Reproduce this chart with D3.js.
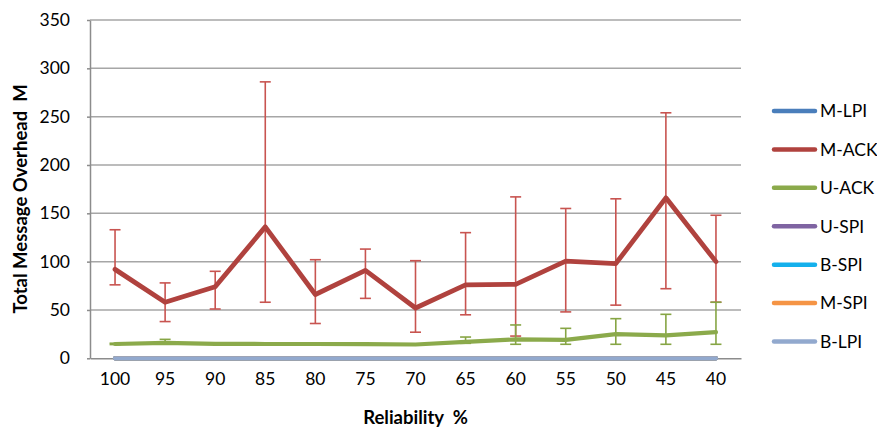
<!DOCTYPE html>
<html>
<head>
<meta charset="utf-8">
<script src="https://cdn.jsdelivr.net/npm/d3@7"></script>
<style>
  html, body { margin: 0; padding: 0; background: #fff; }
  svg { display: block; font-family: Lato, "Open Sans", sans-serif; }
</style>
</head>
<body>
<svg id="chart" width="877" height="430"></svg>
<script>
// Reliability levels on the x axis
const categories = ["100", "95", "90", "85", "80", "75", "70", "65", "60", "55", "50", "45", "40"];

// M-ACK: mean overhead with min/max whiskers
const mAck   = [92, 58, 74, 136, 66, 91, 52, 76, 76.5, 100.5, 98, 166, 100];
const mAckHi = [133, 78, 90, 286, 102, 113, 101, 130, 167, 155, 165, 254, 148];
const mAckLo = [76, 38, 51, 58, 36, 62, 27, 45, 23, 48, 55, 72, 58];

// U-ACK: mean overhead with min/max whiskers
const uAck   = [14.8, 16, 15, 14.8, 14.8, 14.6, 14.3, 17, 19.6, 19, 25, 23.8, 27];
const uAckHi = [15.6, 19.6, 15.4, 15.2, 15.2, 15, 14.7, 22, 34.5, 31, 41, 45.5, 58];
const uAckLo = [14.2, 15.4, 14.6, 14.4, 14.4, 14.2, 13.9, 15.5, 14.5, 14.5, 14.5, 14.5, 14.5];

// Protocols with no overhead
const mLpi = [0, 0, 0, 0, 0, 0, 0, 0, 0, 0, 0, 0, 0];
const uSpi = [0, 0, 0, 0, 0, 0, 0, 0, 0, 0, 0, 0, 0];
const bSpi = [0, 0, 0, 0, 0, 0, 0, 0, 0, 0, 0, 0, 0];
const mSpi = [0, 0, 0, 0, 0, 0, 0, 0, 0, 0, 0, 0, 0];
const bLpi = [0, 0, 0, 0, 0, 0, 0, 0, 0, 0, 0, 0, 0];

const yTicks = [0, 50, 100, 150, 200, 250, 300, 350];

const series = [
  { name: "M-LPI", values: mLpi, color: "#4A7EBB" },
  { name: "M-ACK", values: mAck, color: "#B0423E", hi: mAckHi, lo: mAckLo, errColor: "#C85450" },
  { name: "U-ACK", values: uAck, color: "#8BAA4B", hi: uAckHi, lo: uAckLo, errColor: "#86A544" },
  { name: "U-SPI", values: uSpi, color: "#7F64A2" },
  { name: "B-SPI", values: bSpi, color: "#14B0EC" },
  { name: "M-SPI", values: mSpi, color: "#F59445" },
  { name: "B-LPI", values: bLpi, color: "#92A9CE" }
];

const svg = d3.select("#chart");
const plotLeft = 90, plotRight = 741, plotTop = 20, plotBottom = 358.3;

const x = d3.scaleBand().domain(categories).range([plotLeft, plotRight]);
const y = d3.scaleLinear().domain([0, 350]).range([plotBottom, plotTop]);
const cx = c => x(c) + x.bandwidth() / 2;

// Horizontal gridlines
svg.append("g")
  .selectAll("line")
  .data(yTicks.filter(t => t > 0))
  .join("line")
  .attr("x1", plotLeft).attr("x2", plotRight)
  .attr("y1", d => y(d)).attr("y2", d => y(d))
  .attr("stroke", "#A6A6A6").attr("stroke-width", 1.5);

// Y axis
const yAxis = svg.append("g")
  .attr("transform", `translate(${plotLeft},0)`)
  .call(d3.axisLeft(y).tickValues(yTicks).tickSize(3).tickSizeOuter(0).tickPadding(17));
yAxis.select(".domain").attr("stroke", "#8C8C8C").attr("stroke-width", 1.5);
yAxis.selectAll(".tick line").attr("stroke", "#8C8C8C").attr("stroke-width", 1.5);
yAxis.selectAll(".tick text")
  .attr("font-family", "Lato, sans-serif").attr("font-size", 17.5).attr("fill", "#000");

// X axis
const xAxis = svg.append("g")
  .attr("transform", `translate(0,${plotBottom})`)
  .call(d3.axisBottom(x).tickSize(0).tickSizeOuter(0).tickPadding(14));
xAxis.select(".domain").attr("stroke", "#8C8C8C").attr("stroke-width", 1.5);
xAxis.selectAll(".tick text")
  .attr("font-family", "Lato, sans-serif").attr("font-size", 17.5).attr("fill", "#000");

// Error bars
const capHalf = 5.5;
series.filter(s => s.hi).forEach(s => {
  const g = svg.append("g").attr("stroke", s.errColor).attr("stroke-width", 1.6).attr("fill", "none");
  categories.forEach((c, i) => {
    const px = cx(c);
    g.append("line").attr("x1", px).attr("x2", px).attr("y1", y(s.hi[i])).attr("y2", y(s.lo[i]));
    g.append("line").attr("x1", px - capHalf).attr("x2", px + capHalf).attr("y1", y(s.hi[i])).attr("y2", y(s.hi[i]));
    g.append("line").attr("x1", px - capHalf).attr("x2", px + capHalf).attr("y1", y(s.lo[i])).attr("y2", y(s.lo[i]));
  });
});

// Series lines
const line = d3.line()
  .x((d, i) => cx(categories[i]))
  .y(d => y(d));

svg.append("g")
  .selectAll("path")
  .data(series)
  .join("path")
  .attr("d", d => line(d.values))
  .attr("fill", "none")
  .attr("stroke", d => d.color)
  .attr("stroke-width", d => d.name === "M-ACK" ? 4.8 : 4.2)
  .attr("stroke-linejoin", "round")
  .attr("stroke-linecap", "round");

// Legend
const legend = svg.append("g");
const rowY = d3.scaleLinear().domain([0, 6]).range([111, 341.5]);
series.forEach((s, i) => {
  const ly = rowY(i);
  legend.append("line")
    .attr("x1", 774).attr("x2", 815).attr("y1", ly).attr("y2", ly)
    .attr("stroke", s.color).attr("stroke-width", 4.5).attr("stroke-linecap", "round");
  legend.append("text")
    .attr("x", 820).attr("y", ly).attr("dy", "0.36em")
    .attr("font-size", 17.5).attr("fill", "#000")
    .text(s.name);
});

// Axis titles
svg.append("text")
  .attr("x", (plotLeft + plotRight) / 2).attr("y", 424)
  .attr("text-anchor", "middle")
  .attr("font-size", 18.5).attr("font-weight", "bold").attr("fill", "#000")
  .style("white-space", "pre")
  .text("Reliability  %");

svg.append("text")
  .attr("transform", "translate(27,199) rotate(-90)")
  .attr("text-anchor", "middle")
  .attr("font-size", 18.5).attr("font-weight", "bold").attr("fill", "#000")
  .style("white-space", "pre")
  .text("Total Message Overhead  M");
</script>
</body>
</html>
